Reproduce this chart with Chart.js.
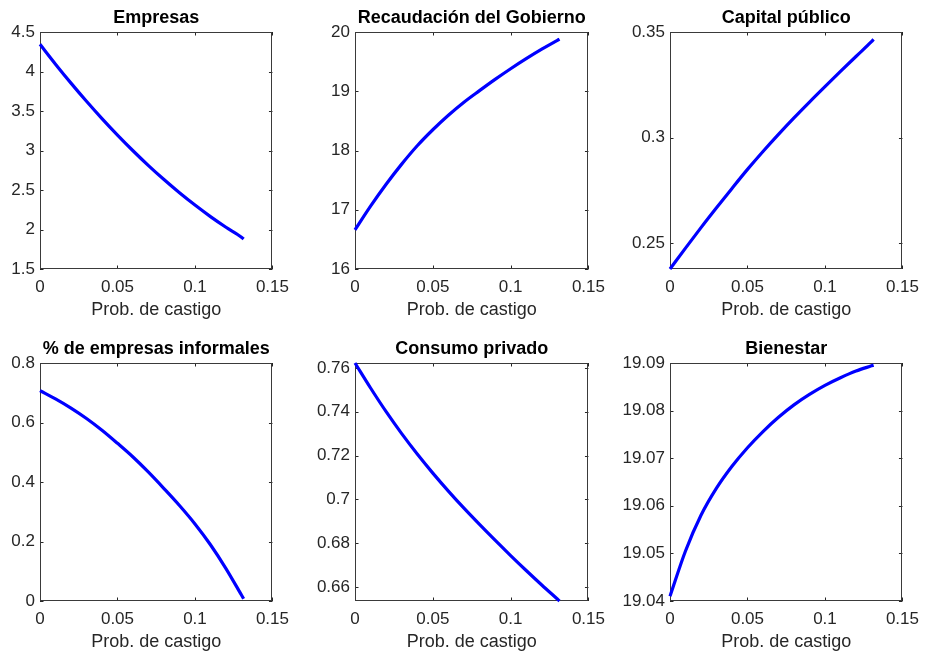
<!DOCTYPE html>
<html><head><meta charset="utf-8">
<script src="https://cdn.jsdelivr.net/npm/chart.js@4/dist/chart.umd.min.js"></script>
<style>
html,body{margin:0;padding:0;background:#fff;}
body{width:927px;height:655px;position:relative;overflow:hidden;}
canvas{position:absolute;}
</style></head><body>
<canvas id="c1"></canvas><canvas id="c2"></canvas><canvas id="c3"></canvas>
<canvas id="c4"></canvas><canvas id="c5"></canvas><canvas id="c6"></canvas>
<script>
// ---- data ----
const probCastigo = [0, 0.01, 0.02, 0.03, 0.04, 0.05, 0.06, 0.07, 0.08, 0.09, 0.10, 0.11, 0.12, 0.13, 0.1314];
const empresas    = [4.344, 4.093, 3.853, 3.623, 3.404, 3.195, 2.997, 2.809, 2.632, 2.465, 2.309, 2.163, 2.028, 1.903, 1.879];
const recaudacion = [16.66, 17.06, 17.43, 17.77, 18.08, 18.35, 18.595, 18.815, 19.01, 19.20, 19.38, 19.55, 19.71, 19.86, 19.88];
const capital     = [0.2377, 0.2476, 0.2573, 0.2667, 0.2759, 0.2849, 0.2934, 0.3015, 0.3093, 0.3168, 0.3241, 0.3313, 0.3384, 0.3454, 0.3465];
const informales  = [0.707, 0.6795, 0.6485, 0.6135, 0.574, 0.530, 0.484, 0.433, 0.378, 0.321, 0.259, 0.189, 0.109, 0.020, 0.0075];
const consumo     = [0.7622, 0.7508, 0.7400, 0.7300, 0.7207, 0.7120, 0.7038, 0.6960, 0.6886, 0.6814, 0.6744, 0.6676, 0.6610, 0.6546, 0.6537];
const bienestar   = [19.0410, 19.0505, 19.0580, 19.0637, 19.0683, 19.0722, 19.0756, 19.0786, 19.0812, 19.0834, 19.0853, 19.0869, 19.0883, 19.0894, 19.08955];

const xTicks           = [0, 0.05, 0.1, 0.15];
const empresasTicks    = [1.5, 2, 2.5, 3, 3.5, 4, 4.5];
const recaudacionTicks = [16, 17, 18, 19, 20];
const capitalTicks     = [0.25, 0.3, 0.35];
const informalesTicks  = [0, 0.2, 0.4, 0.6, 0.8];
const consumoTicks     = [0.66, 0.68, 0.70, 0.72, 0.74, 0.76];
const bienestarTicks   = [19.04, 19.05, 19.06, 19.07, 19.08, 19.09];

const titles = ['Empresas', 'Recaudación del Gobierno', 'Capital público',
                '% de empresas informales', 'Consumo privado', 'Bienestar'];
const xLabel = 'Prob. de castigo';

// ---- layout ----
const FONT = "'Liberation Sans', Arial, Helvetica, sans-serif";
const panels = [
  {id:'c1', title:titles[0], vals:empresas,    ticks:empresasTicks,    yMin:1.5,    yMax:4.5,    left:0,   top:0,   yw:40, pw:235, ph:237},
  {id:'c2', title:titles[1], vals:recaudacion, ticks:recaudacionTicks, yMin:16,     yMax:20,     left:300, top:0,   yw:55, pw:236, ph:237},
  {id:'c3', title:titles[2], vals:capital,     ticks:capitalTicks,     yMin:0.2377, yMax:0.35,   left:615, top:0,   yw:55, pw:235, ph:237},
  {id:'c4', title:titles[3], vals:informales,  ticks:informalesTicks,  yMin:0,      yMax:0.8,    left:0,   top:331, yw:40, pw:235, ph:238},
  {id:'c5', title:titles[4], vals:consumo,     ticks:consumoTicks,     yMin:0.6537, yMax:0.7622, left:300, top:331, yw:55, pw:236, ph:238},
  {id:'c6', title:titles[5], vals:bienestar,   ticks:bienestarTicks,   yMin:19.04,  yMax:19.09,  left:615, top:331, yw:55, pw:235, ph:238},
];
const RIGHT_PAD = 22, TITLE_H = 32, XAXIS_H = 55;

const boxTicks = {
  id: 'boxTicks',
  beforeDatasetsDraw(chart) {
    const {ctx, chartArea: a, scales: {x, y}} = chart;
    const L = 3.5;
    ctx.save();
    ctx.strokeStyle = '#262626';
    ctx.lineWidth = 1;
    ctx.beginPath();
    x.ticks.forEach(t => {
      const px = Math.round(x.getPixelForValue(t.value)) + 0.5;
      ctx.moveTo(px, a.bottom); ctx.lineTo(px, a.bottom - L);
      ctx.moveTo(px, a.top);    ctx.lineTo(px, a.top + L);
    });
    y.ticks.forEach(t => {
      const py = Math.round(y.getPixelForValue(t.value)) + 0.5;
      ctx.moveTo(a.left, py);  ctx.lineTo(a.left + L, py);
      ctx.moveTo(a.right, py); ctx.lineTo(a.right - L, py);
    });
    ctx.stroke();
    ctx.strokeStyle = '#3a3a3a';
    ctx.strokeRect(Math.round(a.left) + 0.5, Math.round(a.top) + 0.5,
                   Math.round(a.right - a.left) - 1, Math.round(a.bottom - a.top) - 1);
    ctx.restore();
  }
};

const fmt = v => String(Number(Number(v).toFixed(5)));

panels.forEach(p => {
  const cv = document.getElementById(p.id);
  const W = p.yw + p.pw + RIGHT_PAD, H = TITLE_H + p.ph + XAXIS_H;
  cv.width = W; cv.height = H;
  cv.style.left = p.left + 'px'; cv.style.top = p.top + 'px';
  cv.style.width = W + 'px'; cv.style.height = H + 'px';
  new Chart(cv, {
    type: 'line',
    data: {
      datasets: [{
        data: probCastigo.map((xv, i) => ({x: xv, y: p.vals[i]})),
        borderColor: '#0000ff',
        borderWidth: 3.2,
        pointRadius: 0,
        fill: false,
        cubicInterpolationMode: 'monotone',
        clip: false,
        borderCapStyle: 'butt'
      }]
    },
    options: {
      responsive: false,
      animation: false,
      devicePixelRatio: 1,
      events: [],
      layout: {padding: {left: 0, top: 0, right: RIGHT_PAD, bottom: 0}},
      plugins: {
        legend: {display: false},
        tooltip: {enabled: false},
        title: {
          display: true,
          text: p.title,
          fullSize: false,
          color: '#000000',
          font: {family: FONT, size: 18, weight: 'bold', lineHeight: 1.2},
          padding: {top: 7.7, bottom: 2.7}
        }
      },
      scales: {
        x: {
          type: 'linear',
          min: 0, max: 0.15,
          afterBuildTicks: s => { s.ticks = xTicks.map(v => ({value: v})); },
          afterFit: s => { s.height = XAXIS_H; },
          grid: {display: false, drawTicks: false},
          border: {display: false},
          ticks: {
            autoSkip: false, maxRotation: 0, padding: 8,
            color: '#262626',
            font: {family: FONT, size: 17},
            callback: v => fmt(v)
          },
          title: {
            display: true, text: xLabel, color: '#262626',
            font: {family: FONT, size: 18, lineHeight: 1.2},
            padding: {top: 0, bottom: 3}
          }
        },
        y: {
          type: 'linear',
          min: p.yMin, max: p.yMax,
          afterBuildTicks: s => { s.ticks = p.ticks.map(v => ({value: v})); },
          afterFit: s => { s.width = p.yw; },
          grid: {display: false, drawTicks: false},
          border: {display: false},
          ticks: {
            autoSkip: false, padding: 5,
            color: '#262626',
            font: {family: FONT, size: 17},
            callback: v => fmt(v)
          }
        }
      }
    },
    plugins: [boxTicks]
  });
});
</script>
</body></html>
